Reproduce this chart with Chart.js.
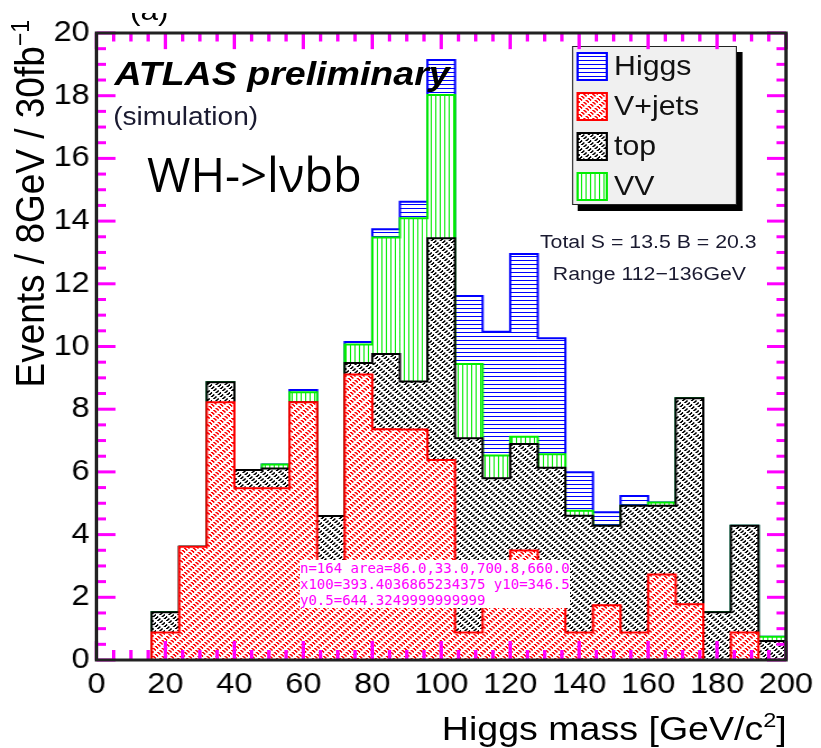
<!DOCTYPE html>
<html>
<head>
<meta charset="utf-8">
<script src="https://cdn.jsdelivr.net/npm/chart.js@4.4.0/dist/chart.umd.min.js"></script>
<style>
html,body{margin:0;padding:0;background:#fff;overflow:hidden;width:821px;height:748px;}
#wrap{position:absolute;left:0;top:0;width:733px;height:748px;transform:scaleX(1.1216);transform-origin:0 0;}
#c{position:absolute;left:0;top:0;}
#legShadow{position:absolute;left:515.4px;top:52px;width:147px;height:159px;background:#000;}
#leg{position:absolute;left:509.7px;top:46px;width:147px;height:159px;background:#f0f0f0;border:1px solid #222;box-sizing:border-box;}
.sw{position:absolute;left:514.2px;width:28px;height:29px;box-sizing:border-box;}
#ov{position:absolute;left:0;top:0;overflow:visible;pointer-events:none;}
#dbg{position:absolute;left:300px;top:560px;font:14px monospace;color:#f0f;white-space:pre;background:#fff;}
</style>
</head>
<body>
<div id="wrap">
  <canvas id="c" width="733" height="748" style="width:733px;height:748px"></canvas>
  <div id="legShadow"></div>
  <div id="leg"></div>
  <canvas class="sw" id="swH" width="28" height="29" style="top:51.7px"></canvas>
  <canvas class="sw" id="swV" width="28" height="29" style="top:91.7px"></canvas>
  <canvas class="sw" id="swT" width="28" height="29" style="top:131.7px"></canvas>
  <canvas class="sw" id="swW" width="28" height="29" style="top:171.7px"></canvas>
  <svg id="ov" width="733" height="748" font-family="Liberation Sans, Arial, sans-serif" fill="#000">
    <defs><clipPath id="clipA"><rect x="0" y="13" width="733" height="40"/></clipPath></defs>
    <g id="axisMarks" stroke="#f0f" stroke-width="3" fill="none"></g>
    <text x="116" y="20" font-size="28" clip-path="url(#clipA)">(a)</text>
    <text x="102" y="85" font-size="33.5" font-weight="bold" font-style="italic">ATLAS preliminary</text>
    <text x="101" y="125" font-size="25" fill="#1a1a30">(simulation)</text>
    <text x="578" y="248" font-size="19" text-anchor="middle" fill="#1a1a30">Total S = 13.5 B = 20.3</text>
    <text x="579" y="280" font-size="19" text-anchor="middle" fill="#1a1a30">Range 112−136GeV</text>
    <text x="547.5" y="75.5" font-size="27" fill="#111">Higgs</text>
    <text x="547.5" y="115.5" font-size="27" fill="#111">V+jets</text>
    <text x="547.5" y="155.5" font-size="27" fill="#111">top</text>
    <text x="547.5" y="195.5" font-size="27" fill="#111">VV</text>
    <text x="701.5" y="740" font-size="33.5" text-anchor="end">Higgs mass [GeV/c<tspan dy="-13" font-size="21">2</tspan><tspan dy="13">]</tspan></text>
    <text transform="translate(39,20) rotate(-90)" font-size="37" text-anchor="end">Events / 8GeV / 30fb<tspan dy="-13" font-size="23">−1</tspan></text>
    <g transform="scale(0.891584,1)"><text x="147" y="192" font-family="Open Sans, DejaVu Sans, sans-serif" font-size="47">WH-&gt;lνbb</text></g>
  </svg>
</div>
<div id="dbg"></div>
<script>
const binLow = [16,24,32,40,48,56,64,72,80,88,96,104,112,120,128,136,144,152,160,168,176,184,192];
const binWidth = 8;
const vjets  = [0.88,3.61,8.22,5.48,5.48,8.22,2.73,9.11,7.36,7.35,6.38,0.88,2.73,3.49,2.73,0.88,1.75,0.88,2.73,1.78,0,0.88,0];
const topBkg = [0.64,0,0.64,0.58,0.63,0,1.86,0.36,2.40,1.53,7.07,6.19,3.07,3.40,3.40,3.72,2.53,4.04,2.19,6.57,1.52,3.40,0.61];
const vv     = [0,0,0,0,0.13,0.32,0,0.59,3.72,5.21,4.57,2.37,0.72,0.23,0.43,0.16,0,0,0.10,0,0,0,0.13];
const higgs  = [0,0,0,0,0,0.07,0,0.08,0.26,0.53,1.12,2.17,3.95,5.83,3.70,1.23,0.43,0.31,0,0,0,0,0];
const xTickLabels = [0,20,40,60,80,100,120,140,160,180,200];
const yTickLabels = [0,2,4,6,8,10,12,14,16,18,20];
const cumV = vjets.slice();
const cumT = cumV.map((v,i)=>v+topBkg[i]);
const cumW = cumT.map((v,i)=>v+vv[i]);
const cumH = cumW.map((v,i)=>v+higgs[i]);
function makeTile(color, w, h, fn){
  const c=document.createElement('canvas'); c.width=w; c.height=h;
  const g=c.getContext('2d'); g.fillStyle='#fff'; g.fillRect(0,0,w,h); g.fillStyle=color;
  for(let y=0;y<h;y++) for(let x=0;x<w;x++) if(fn(x,y)) g.fillRect(x,y,1,1);
  return c;
}
const mod=(a,n)=>((a%n)+n)%n;
const tiles = {
  H: makeTile('#0000ff',4,4,(x,y)=>y%4===0),
  V: makeTile('#ff0000',8,8,(x,y)=>mod(x-y,4)<2 && mod(x+y,8)<5),
  T: makeTile('#000000',8,8,(x,y)=>mod(x+y,4)<2 && mod(x-y,8)<5),
  W: makeTile('#00ee00',4,4,(x,y)=>x%4===0)
};
const ctx = document.getElementById('c').getContext('2d');
const pat = {};
for (const k in tiles) pat[k] = ctx.createPattern(tiles[k],'repeat');
[['swH','H','#0000ff'],['swV','V','#ff0000'],['swT','T','#000000'],['swW','W','#00ee00']].forEach(([id,k,col])=>{
  const cv=document.getElementById(id), g=cv.getContext('2d');
  g.fillStyle=g.createPattern(tiles[k],'repeat'); g.fillRect(0,0,cv.width,cv.height);
  g.strokeStyle=col; g.lineWidth=2; g.strokeRect(1,1,cv.width-2,cv.height-2);
});
function barDS(label, cum, bg, order){
  return { type:'bar', label, order, grouped:false, barPercentage:1, categoryPercentage:1,
    data: binLow.map((lo,i)=>({x: lo+binWidth/2, y: cum[i]})), backgroundColor: bg, borderWidth: 0 };
}
function lineDS(label, cum, color, order){
  const end = binLow[binLow.length-1]+binWidth;
  const pts=[{x:binLow[0],y:0}];
  binLow.forEach((lo,i)=>pts.push({x:lo,y:cum[i]}));
  pts.push({x:end,y:cum[cum.length-1]}); pts.push({x:end,y:0});
  return { type:'line', label, order, data: pts, borderColor: color, borderWidth: 2,
    stepped:'before', pointRadius:0, fill:false, tension:0 };
}
const SVGNS = 'http://www.w3.org/2000/svg';
const dbg = document.getElementById('dbg');
const rootFrame = {
  id:'rootFrame',
  afterRender(chart){
    const g = document.getElementById('axisMarks');
    while (g.firstChild) g.removeChild(g.firstChild);
    const a = chart.chartArea, xs = chart.scales.x, ys = chart.scales.y;
    let n=0;
    const ln = (x1,y1,x2,y2)=>{ n++; const l=document.createElementNS(SVGNS,'line');
      l.setAttribute('x1',x1); l.setAttribute('y1',y1); l.setAttribute('x2',x2); l.setAttribute('y2',y2); g.appendChild(l); };
    for(let v=0; v<=200; v+=5){
      const px=xs.getPixelForValue(v), L=(v%20===0)?19:10;
      ln(px,a.bottom,px,a.bottom-L);
      ln(px,a.top,px,a.top+L*0.85);
    }
    for(let v=0; v<=20; v+=0.5){
      const py=ys.getPixelForValue(v), L=(v%2===0)?17:8.5;
      ln(a.left,py,a.left+L,py);
      ln(a.right,py,a.right-L,py);
    }
    const r=document.createElementNS(SVGNS,'rect');
    r.setAttribute('x',a.left); r.setAttribute('y',a.top);
    r.setAttribute('width',a.right-a.left); r.setAttribute('height',a.bottom-a.top);
    r.setAttribute('stroke','#222');
    g.appendChild(r);
    dbg.textContent = 'n='+n+' area='+[a.left,a.top,a.right,a.bottom].map(v=>v.toFixed(1)).join(',')+'\nx100='+xs.getPixelForValue(100)+' y10='+ys.getPixelForValue(10)+'\ny0.5='+ys.getPixelForValue(0.5);
  }
};
const tickFont = {family:'Liberation Sans, Arial, sans-serif', size:29};
new Chart(ctx, {
  type:'bar',
  data:{ datasets:[
    lineDS('V+jets', cumV, '#ff0000', 0), barDS('V+jets', cumV, pat.V, 1),
    lineDS('top', cumT, '#000000', 2), barDS('top', cumT, pat.T, 3),
    lineDS('VV', cumW, '#00ee00', 4), barDS('VV', cumW, pat.W, 5),
    lineDS('Higgs', cumH, '#0000ff', 6), barDS('Higgs', cumH, pat.H, 7)
  ]},
  options:{
    responsive:false, animation:false, events:[], devicePixelRatio:1,
    layout:{padding:{left:0,top:33,right:31,bottom:0}},
    plugins:{legend:{display:false}, tooltip:{enabled:false}},
    scales:{
      x:{ type:'linear', min:0, max:200, offset:false,
          grid:{display:false, drawTicks:false, offset:false}, border:{display:false},
          afterBuildTicks:s=>{ s.ticks = xTickLabels.map(v=>({value:v})); },
          afterFit:s=>{ s.height = 88; },
          ticks:{autoSkip:false, maxRotation:0, minRotation:0, padding:8, color:'#000', font:tickFont} },
      y:{ type:'linear', min:0, max:20,
          grid:{display:false, drawTicks:false}, border:{display:false},
          afterBuildTicks:s=>{ s.ticks = yTickLabels.map(v=>({value:v})); },
          afterFit:s=>{ s.width = 86; },
          ticks:{autoSkip:false, padding:6, color:'#000', font:tickFont} }
    }
  },
  plugins:[rootFrame]
});
</script>
</body>
</html>
